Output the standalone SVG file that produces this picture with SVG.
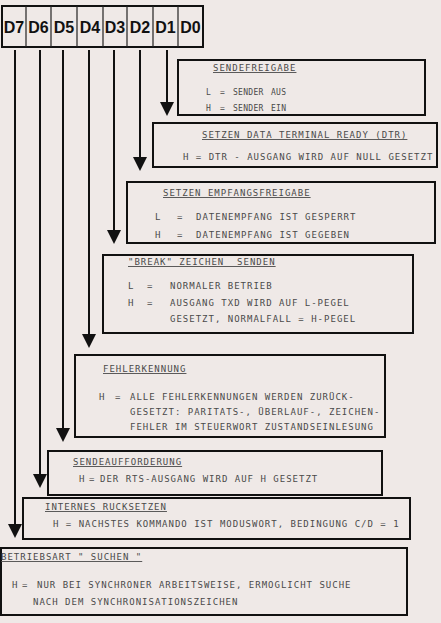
<svg xmlns="http://www.w3.org/2000/svg" width="441" height="623" viewBox="0 0 441 623">
<style>
.reg{fill:none;stroke:#111;stroke-width:2}
.cell{stroke:#222;stroke-width:1.2}
.lbl{font-family:"Liberation Sans",Arial,sans-serif;font-weight:bold;font-size:16px;fill:#111;text-anchor:middle}
.box{fill:none;stroke:#111;stroke-width:2}
.t{font-family:"DejaVu Sans Mono","Liberation Mono",monospace;font-size:9px;letter-spacing:1px;fill:#4a4a4a}
.s{font-size:8px;letter-spacing:0.3px}
.u{text-decoration:underline}
.hd{fill:#111}
</style>
<rect width="441" height="623" fill="#efe9e7"/>
<g id="register">
<rect class="reg" x="2" y="6" width="201" height="41"/>
<line class="cell" x1="26" y1="6" x2="26" y2="47"/>
<line class="cell" x1="51" y1="6" x2="51" y2="47"/>
<line class="cell" x1="77" y1="6" x2="77" y2="47"/>
<line class="cell" x1="103" y1="6" x2="103" y2="47"/>
<line class="cell" x1="127" y1="6" x2="127" y2="47"/>
<line class="cell" x1="153" y1="6" x2="153" y2="47"/>
<line class="cell" x1="178" y1="6" x2="178" y2="47"/>
<text class="lbl" x="14" y="33">D7</text>
<text class="lbl" x="38.5" y="33">D6</text>
<text class="lbl" x="64" y="33">D5</text>
<text class="lbl" x="90" y="33">D4</text>
<text class="lbl" x="115" y="33">D3</text>
<text class="lbl" x="140" y="33">D2</text>
<text class="lbl" x="165.5" y="33">D1</text>
<text class="lbl" x="190.5" y="33">D0</text>
</g>
<g id="connectors" stroke="#111" stroke-width="2">
<path d="M15,50 V524"/>
<path d="M40,50 V474"/>
<path d="M63,50 V428"/>
<path d="M89,50 V334"/>
<path d="M114,50 V230"/>
<path d="M140,50 V157"/>
<path d="M167,50 V102"/>
<g class="hd" stroke="none">
<path d="M8,524 H22 L15,538 Z"/>
<path d="M33,474 H47 L40,488 Z"/>
<path d="M56,428 H70 L63,442 Z"/>
<path d="M82,334 H96 L89,348 Z"/>
<path d="M107,230 H121 L114,244 Z"/>
<path d="M133,157 H147 L140,171 Z"/>
<path d="M160,102 H174 L167,116 Z"/>
</g>
</g>
<g id="d1-sendefreigabe">
<rect class="box" x="178" y="60" width="247" height="55"/>
<text class="t u" x="213" y="71">SENDEFREIGABE</text>
<text class="t s" y="95"><tspan x="206">L</tspan><tspan x="220">=</tspan><tspan x="233">SENDER</tspan><tspan x="271">AUS</tspan></text>
<text class="t s" y="111"><tspan x="206">H</tspan><tspan x="220">=</tspan><tspan x="233">SENDER</tspan><tspan x="271">EIN</tspan></text>
</g>
<g id="d2-dtr">
<rect class="box" x="153" y="123" width="284" height="44"/>
<text class="t u" x="202" y="138">SETZEN DATA TERMINAL READY (DTR)</text>
<text class="t" x="183" y="160">H = DTR - AUSGANG WIRD AUF NULL GESETZT</text>
</g>
<g id="d3-empfangsfreigabe">
<rect class="box" x="127" y="182" width="308" height="61"/>
<text class="t u" x="163" y="196">SETZEN EMPFANGSFREIGABE</text>
<text class="t" y="220"><tspan x="155">L</tspan><tspan x="177">=</tspan><tspan x="196">DATENEMPFANG IST GESPERRT</tspan></text>
<text class="t" y="238"><tspan x="155">H</tspan><tspan x="177">=</tspan><tspan x="196">DATENEMPFANG IST GEGEBEN</tspan></text>
</g>
<g id="d4-break">
<rect class="box" x="103" y="255" width="310" height="78"/>
<text class="t u" x="128" y="265" xml:space="preserve">"BREAK" ZEICHEN  SENDEN</text>
<text class="t" y="289"><tspan x="128">L</tspan><tspan x="147">=</tspan><tspan x="170">NORMALER BETRIEB</tspan></text>
<text class="t" y="306"><tspan x="128">H</tspan><tspan x="147">=</tspan><tspan x="170">AUSGANG TXD WIRD AUF L-PEGEL</tspan></text>
<text class="t" x="170" y="322">GESETZT, NORMALFALL = H-PEGEL</text>
</g>
<g id="d5-fehlerkennung">
<rect class="box" x="75" y="355" width="310" height="82"/>
<text class="t u" x="103" y="372">FEHLERKENNUNG</text>
<text class="t" y="400"><tspan x="99">H</tspan><tspan x="115">=</tspan><tspan x="130">ALLE FEHLERKENNUNGEN WERDEN ZURÜCK-</tspan></text>
<text class="t" x="130" y="415">GESETZT: PARITATS-, ÜBERLAUF-, ZEICHEN-</text>
<text class="t" x="130" y="430">FEHLER IM STEUERWORT ZUSTANDSEINLESUNG</text>
</g>
<g id="d6-sendeaufforderung">
<rect class="box" x="48" y="451" width="334" height="44"/>
<text class="t u" x="73" y="465">SENDEAUFFORDERUNG</text>
<text class="t" y="482"><tspan x="79">H</tspan><tspan x="89">=</tspan><tspan x="100">DER RTS-AUSGANG WIRD AUF H GESETZT</tspan></text>
</g>
<g id="d7-ruecksetzen">
<rect class="box" x="23" y="498" width="387" height="41"/>
<text class="t u" x="45" y="510">INTERNES RUCKSETZEN</text>
<text class="t" x="53" y="527">H = NACHSTES KOMMANDO IST MODUSWORT, BEDINGUNG C/D = 1</text>
</g>
<g id="d0-suchen">
<rect class="box" x="1" y="548" width="406" height="67"/>
<text class="t u" x="1" y="560">BETRIEBSART " SUCHEN "</text>
<text class="t" y="588"><tspan x="12">H</tspan><tspan x="22">=</tspan><tspan x="37">NUR BEI SYNCHRONER ARBEITSWEISE, ERMOGLICHT SUCHE</tspan></text>
<text class="t" x="33" y="605">NACH DEM SYNCHRONISATIONSZEICHEN</text>
</g>
</svg>
